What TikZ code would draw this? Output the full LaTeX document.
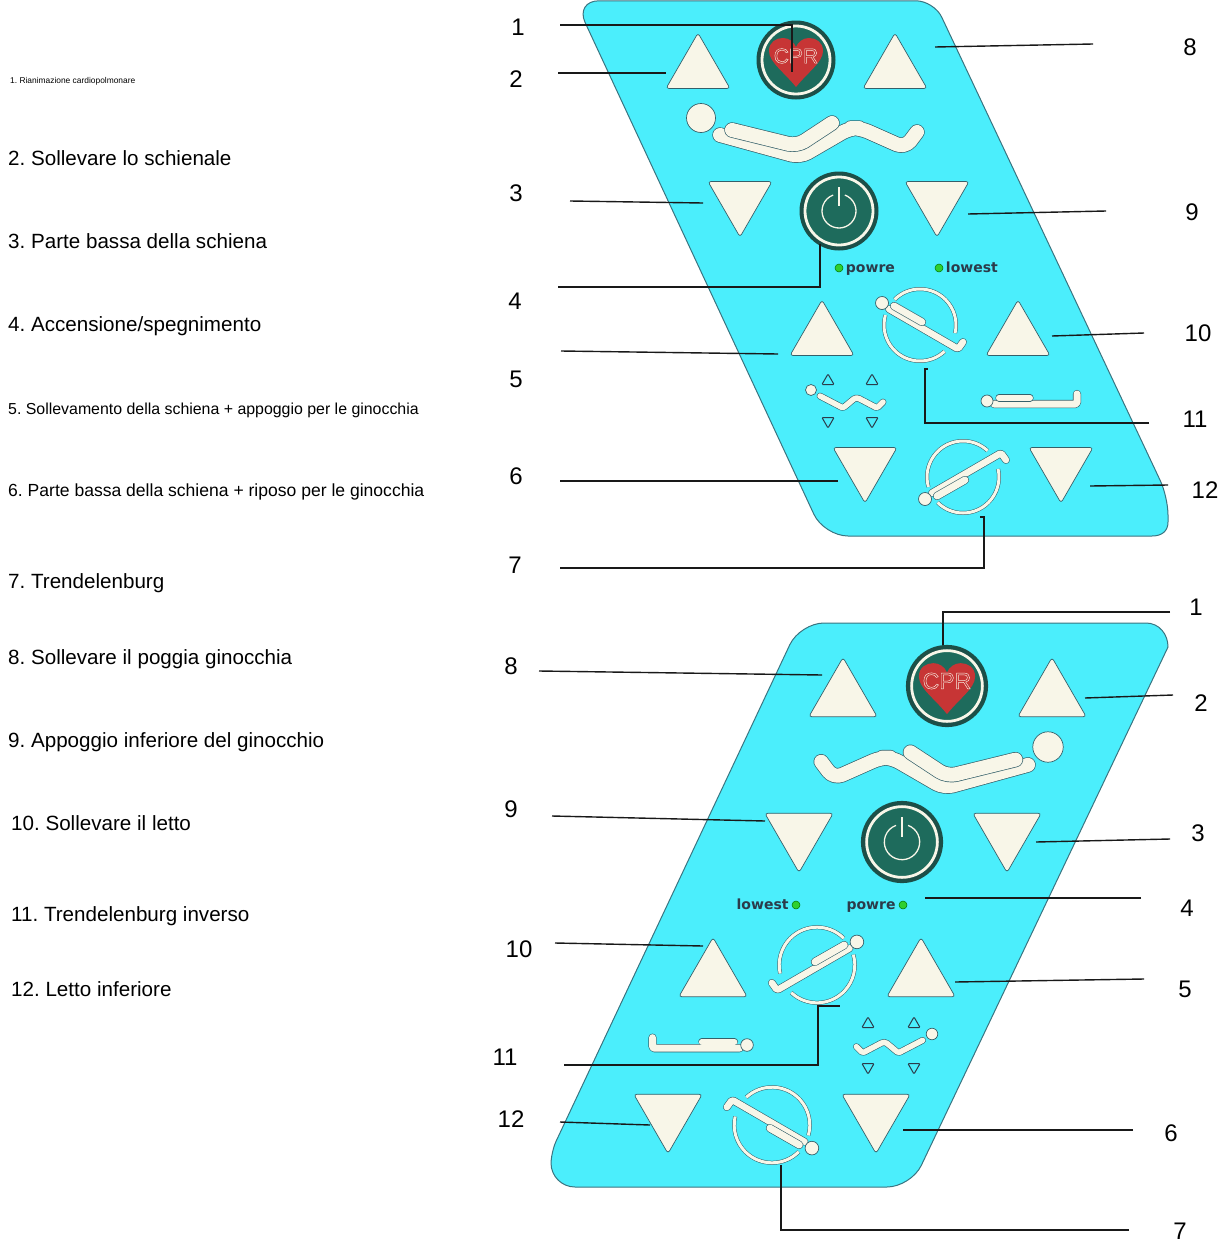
\documentclass[tikz,border=0pt]{standalone}
\usepackage{fontspec}
\setmainfont{Liberation Sans}
\newfontfamily\panelfont{DejaVu Sans}
\usetikzlibrary{shapes.geometric,positioning,calc}
\definecolor{panelblue}{HTML}{4BEEFC}
\definecolor{paneledge}{HTML}{3A7480}
\definecolor{cream}{HTML}{F8F6E8}
\definecolor{ringdark}{HTML}{1C4F48}
\definecolor{btngreen}{HTML}{1E6B5C}
\definecolor{heartred}{HTML}{C73535}
\definecolor{ledgreen}{HTML}{2FD02F}
\definecolor{glyphedge}{HTML}{35606A}
\definecolor{captext}{HTML}{2B3B4A}
\newcommand{\outlinetext}[1]{\special{pdf:code q 1 Tr 0.45 w 0.97 0.93 0.88 RG}#1\special{pdf:code Q}}
\frenchspacing

\begin{document}
\begin{tikzpicture}[
    x=1pt, y=-1pt,
    panel/.style={draw=paneledge, fill=panelblue, line width=1pt},
    uparrow/.style={regular polygon, regular polygon sides=3, draw=glyphedge, fill=cream,
                inner sep=0pt, minimum size=74pt, rounded corners=3pt, line width=0.7pt},
    downarrow/.style={uparrow, shape border rotate=180},
    bigup/.style={uparrow, minimum size=79pt},
    bigdown/.style={downarrow, minimum size=79pt},
    tinyup/.style={regular polygon, regular polygon sides=3, draw=captext, fill=panelblue,
                inner sep=0pt, minimum size=14pt, rounded corners=1pt, line width=1pt},
    tinydown/.style={tinyup, shape border rotate=180},
    bedline/.style={draw=glyphedge, double=cream, double distance=14pt, line width=0.7pt,
                line cap=round, line join=round, rounded corners=9pt},
    bedthin/.style={draw=glyphedge, double=cream, double distance=5.5pt, line width=0.6pt,
                line cap=round, line join=round, rounded corners=1.5pt},
    headdot/.style={draw=glyphedge, fill=cream, line width=0.7pt},
    ringarc/.style={draw=glyphedge, double=cream, double distance=3pt, line width=0.5pt},
    led/.style={circle, draw=green!45!black, fill=ledgreen, inner sep=0pt, minimum size=8pt, line width=0.5pt},
    captag/.style={text=captext, inner sep=0pt, text height=10pt, text depth=2pt,
                font=\panelfont\fontsize{14}{18}\selectfont\bfseries},
    leader/.style={draw=black!90, line width=1.4pt},
    num/.style={inner sep=0pt, font=\fontsize{24}{28}\selectfont},
    legend/.style={anchor=west, inner sep=0pt, text height=15pt, text depth=4pt, font=\fontsize{20.6}{24}\selectfont},
    legendsmall/.style={anchor=west, inner sep=0pt, text height=11pt, text depth=3pt},
    pics/btnring/.style={code={
        \fill[ringdark] (0,0) circle[radius=39.5];
        \draw[fill=btngreen, draw=cream, line width=2.8pt] (0,0) circle[radius=34];
    }},
    pics/cprheart/.style={code={
        \fill[heartred] (0,27) .. controls (-12,12) and (-27,2) .. (-27,-9)
            .. controls (-27,-18) and (-20,-22) .. (-13,-22)
            .. controls (-7,-22) and (-2,-18) .. (0,-13)
            .. controls (2,-18) and (7,-22) .. (13,-22)
            .. controls (20,-22) and (27,-18) .. (27,-9)
            .. controls (27,2) and (12,12) .. (0,27) -- cycle;
    }},
    pics/powermark/.style={code={
        \draw[cream, line width=1.3pt] (290:17) arc[start angle=290, end angle=610, radius=17];
        \draw[cream, line width=1.6pt] (0,-24) -- (0,-5);
    }},
    pics/bigbed/.style={code={
        \draw[headdot] (0,0) circle[radius=14.5];
        \draw[bedline] (19,17) -- (99,39) -- (149,10) -- (159,10) -- (204,30) -- (216,14);
        \draw[bedline] (31,12) -- (96,28) -- (131,5);
    }},
    pics/tiltbed/.style={code={
        \draw[ringarc] (225:36) arc[start angle=225, end angle=373, radius=36];
        \draw[ringarc] (47:36) arc[start angle=47, end angle=196, radius=36];
        \draw[bedthin, double distance=6.5pt] (-31,-16) -- (38,24) -- (43,17);
        \draw[bedthin, double distance=7pt] (-26,-19) -- (2,-3);
        \draw[headdot] (-38,-22) circle[radius=6.5];
    }},
    pics/flatbed/.style={code={
        \draw[bedthin, double distance=7pt] (7,3) -- (90,3) -- (90,-7);
        \draw[bedthin, double distance=6pt] (12,-3) -- (43,-3);
        \draw[headdot] (0,0) circle[radius=6];
    }},
    pics/wavebed/.style={code={
        \draw[bedthin] (9,6) -- (32,18) -- (44,8) -- (47,8) -- (66,18) -- (72,12);
        \draw[headdot] (0,0) circle[radius=5.5];
    }}
]
    \useasboundingbox (0,0) rectangle (1229,1245);

    \draw[panel, rounded corners=24pt] (575,0.8) [rounded corners=18pt] -- (934,0.8) -- (1168,497) [sharp corners] -- (1168,522)
        .. controls (1168,531) and (1162,536) .. (1152,536) [rounded corners=24pt] -- (824,536) -- cycle;
    \draw[panel, rounded corners=24pt] (800,623) [sharp corners] -- (1146,623)
        .. controls (1159,623) and (1168,634) .. (1168,647) [rounded corners=24pt] -- (911,1187)
        -- (551,1187) [rounded corners=12pt] -- (551,1152) [rounded corners=24pt] -- cycle;

    \node[uparrow] (upA) at (698,70) {};
    \node[uparrow] (upB) at (895,70) {};
    \node[downarrow] (downA) at (740,200) {};
    \node[downarrow] (downB) at (937,200) {};
    \node[uparrow] (upC) at (822,337) {};
    \node[uparrow] (upD) at (1018,337) {};
    \node[downarrow] (downC) at (865,466) {};
    \node[downarrow] (downD) at (1061,466) {};

    \node[bigup] (upE) at (843,697) {};
    \node[bigup] (upF) at (1052,697) {};
    \node[bigdown] (downE) at (799,833) {};
    \node[bigdown] (downF) at (1007,833) {};
    \node[bigup] (upG) at (713,977) {};
    \node[bigup] (upH) at (921,977) {};
    \node[bigdown] (downG) at (668,1114) {};
    \node[bigdown] (downH) at (876,1114) {};

    \pic at (796,60) {btnring};
    \pic at (796,60) {cprheart};
    \node[inner sep=0pt, text=heartred, font=\fontsize{21}{24}\selectfont] (cprA) at (796,56) {\outlinetext{CPR}};
    \pic at (839,211) {btnring};
    \pic at (839,211) {powermark};

    \pic[scale=1.04] at (947,686) {btnring};
    \pic[scale=1.04] at (947,686) {cprheart};
    \node[inner sep=0pt, text=heartred, font=\fontsize{23}{26}\selectfont] (cprB) at (947,681) {\outlinetext{CPR}};
    \pic[scale=1.04] at (902,842) {btnring};
    \pic[scale=1.04] at (902,842) {powermark};

    \pic at (701,118) {bigbed};
    \pic[xscale=-1.05, yscale=1.05] at (1048,747) {bigbed};

    \pic at (920,325) {tiltbed};
    \pic[yscale=-1] at (963,477) {tiltbed};
    \pic[xscale=-1.05, yscale=1.05] at (817,965) {tiltbed};
    \pic[xscale=-1.05, yscale=-1.05] at (772,1125) {tiltbed};

    \pic at (987,401) {flatbed};
    \pic[xscale=-1.05, yscale=1.05] at (747,1045) {flatbed};
    \pic at (811,390) {wavebed};
    \pic[xscale=-1.05, yscale=1.05] at (932,1034) {wavebed};

    \node[tinyup] (tinyA) at (828,381) {};
    \node[tinyup] (tinyB) at (872,381) {};
    \node[tinydown] (tinyC) at (828,421) {};
    \node[tinydown] (tinyD) at (872,421) {};
    \node[tinyup] (tinyE) at (868,1024) {};
    \node[tinyup] (tinyF) at (914,1024) {};
    \node[tinydown] (tinyG) at (868,1067) {};
    \node[tinydown] (tinyH) at (914,1067) {};

    \node[led] (ledA) at (839,268) {};
    \node[captag, right=2.5pt of ledA] (powreA) {powre};
    \node[led] (ledB) at (939,268) {};
    \node[captag, right=2.5pt of ledB] (lowestA) {lowest};
    \node[led] (ledC) at (796,905) {};
    \node[captag, left=3pt of ledC] (lowestB) {lowest};
    \node[led] (ledD) at (903,905) {};
    \node[captag, left=3pt of ledD] (powreB) {powre};

    \node[legendsmall, font=\fontsize{8.4}{10}\selectfont] (textA) at (10,79) {1. Rianimazione cardiopolmonare};
    \node[legend] (textB) at (8,159.5) {2. Sollevare lo schienale};
    \node[legend] (textC) at (8,242.5) {3. Parte bassa della schiena};
    \node[legend] (textD) at (8,325.5) {4. Accensione/spegnimento};
    \node[legendsmall, font=\fontsize{15.9}{18}\selectfont] (textE) at (8,410) {5. Sollevamento della schiena + appoggio per le ginocchia};
    \node[legendsmall, font=\fontsize{17.55}{20}\selectfont] (textF) at (8,492.5) {6. Parte bassa della schiena + riposo per le ginocchia};
    \node[legend] (textG) at (8,582.5) {7. Trendelenburg};
    \node[legend] (textH) at (8,658.5) {8. Sollevare il poggia ginocchia};
    \node[legend] (textI) at (8,741.5) {9. Appoggio inferiore del ginocchio};
    \node[legend] (textJ) at (11,824.5) {10. Sollevare il letto};
    \node[legend] (textK) at (11,915.5) {11. Trendelenburg inverso};
    \node[legend] (textL) at (11,990.5) {12. Letto inferiore};

    \node[num] (numA1) at (518,27) {1};
    \node[num] (numA2) at (516,79) {2};
    \node[num] (numA3) at (516,193) {3};
    \node[num] (numA4) at (515,301) {4};
    \node[num] (numA5) at (516,379) {5};
    \node[num] (numA6) at (516,476) {6};
    \node[num] (numA7) at (515,565) {7};
    \node[num] (numA8) at (1190,47) {8};
    \node[num] (numA9) at (1192,212) {9};
    \node[num] (numA10) at (1198,333) {10};
    \node[num] (numA11) at (1195,419) {11};
    \node[num] (numA12) at (1205,490) {12};

    \node[num] (numB1) at (1196,607) {1};
    \node[num] (numB2) at (1201,703) {2};
    \node[num] (numB3) at (1198,833) {3};
    \node[num] (numB4) at (1187,908) {4};
    \node[num] (numB5) at (1185,989) {5};
    \node[num] (numB6) at (1171,1133) {6};
    \node[num] (numB7) at (1180,1231) {7};
    \node[num] (numB8) at (511,666) {8};
    \node[num] (numB9) at (511,809) {9};
    \node[num] (numB10) at (519,949) {10};
    \node[num] (numB11) at (505,1057) {11};
    \node[num] (numB12) at (511,1119) {12};

    \coordinate (fromA1) at (560,25);    \coordinate (toA1) at (792,72);
    \coordinate (fromA2) at (558,73);    \coordinate (toA2) at (666,73);
    \coordinate (fromA3) at (570,201);   \coordinate (toA3) at (703,203);
    \coordinate (fromA4) at (558,287);   \coordinate (toA4) at (820,244);
    \coordinate (fromA5) at (561,351);   \coordinate (toA5) at (778,354);
    \coordinate (fromA6) at (560,481);   \coordinate (toA6) at (838,481);
    \coordinate (fromA7) at (560,568);   \coordinate (toA7) at (984,517);
    \coordinate (fromA8) at (1093,44);   \coordinate (toA8) at (935,47);
    \coordinate (fromA9) at (1106,211);  \coordinate (toA9) at (968,214);
    \coordinate (fromA10) at (1144,333); \coordinate (toA10) at (1052,336);
    \coordinate (fromA11) at (1149,423); \coordinate (toA11) at (925,369);
    \coordinate (fromA12) at (1168,485); \coordinate (toA12) at (1090,486);

    \coordinate (fromB1) at (1170,612);  \coordinate (toB1) at (943,645);
    \coordinate (fromB2) at (1173,695);  \coordinate (toB2) at (1085,698);
    \coordinate (fromB3) at (1170,839);  \coordinate (toB3) at (1036,842);
    \coordinate (fromB4) at (1141,898);  \coordinate (toB4) at (925,898);
    \coordinate (fromB5) at (1144,979);  \coordinate (toB5) at (955,982);
    \coordinate (fromB6) at (1133,1130); \coordinate (toB6) at (903,1130);
    \coordinate (fromB7) at (1129,1230); \coordinate (toB7) at (781,1165);
    \coordinate (fromB8) at (539,671);   \coordinate (toB8) at (822,675);
    \coordinate (fromB9) at (552,816);   \coordinate (toB9) at (765,821);
    \coordinate (fromB10) at (555,943);  \coordinate (toB10) at (703,946);
    \coordinate (fromB11) at (564,1065); \coordinate (toB11) at (818,1006);
    \coordinate (fromB12) at (560,1122); \coordinate (toB12) at (650,1125);

    \draw[leader] (fromA1) -| (toA1);
    \draw[leader] (fromA2) -- (toA2);
    \draw[leader] (fromA3) -- (toA3);
    \draw[leader] (fromA4) -| (toA4);
    \draw[leader] (fromA5) -- (toA5);
    \draw[leader] (fromA6) -- (toA6);
    \draw[leader] (fromA7) -| (toA7) -- ++(-4,0);
    \draw[leader] (fromA8) -- (toA8);
    \draw[leader] (fromA9) -- (toA9);
    \draw[leader] (fromA10) -- (toA10);
    \draw[leader] (fromA11) -| (toA11) -- ++(3,0);
    \draw[leader] (fromA12) -- (toA12);

    \draw[leader] (fromB1) -| (toB1);
    \draw[leader] (fromB2) -- (toB2);
    \draw[leader] (fromB3) -- (toB3);
    \draw[leader] (fromB4) -- (toB4);
    \draw[leader] (fromB5) -- (toB5);
    \draw[leader] (fromB6) -- (toB6);
    \draw[leader] (fromB7) -| (toB7);
    \draw[leader] (fromB8) -- (toB8);
    \draw[leader] (fromB9) -- (toB9);
    \draw[leader] (fromB10) -- (toB10);
    \draw[leader] (fromB11) -| (toB11) -- ++(22,0);
    \draw[leader] (fromB12) -- (toB12);
\end{tikzpicture}
\end{document}
